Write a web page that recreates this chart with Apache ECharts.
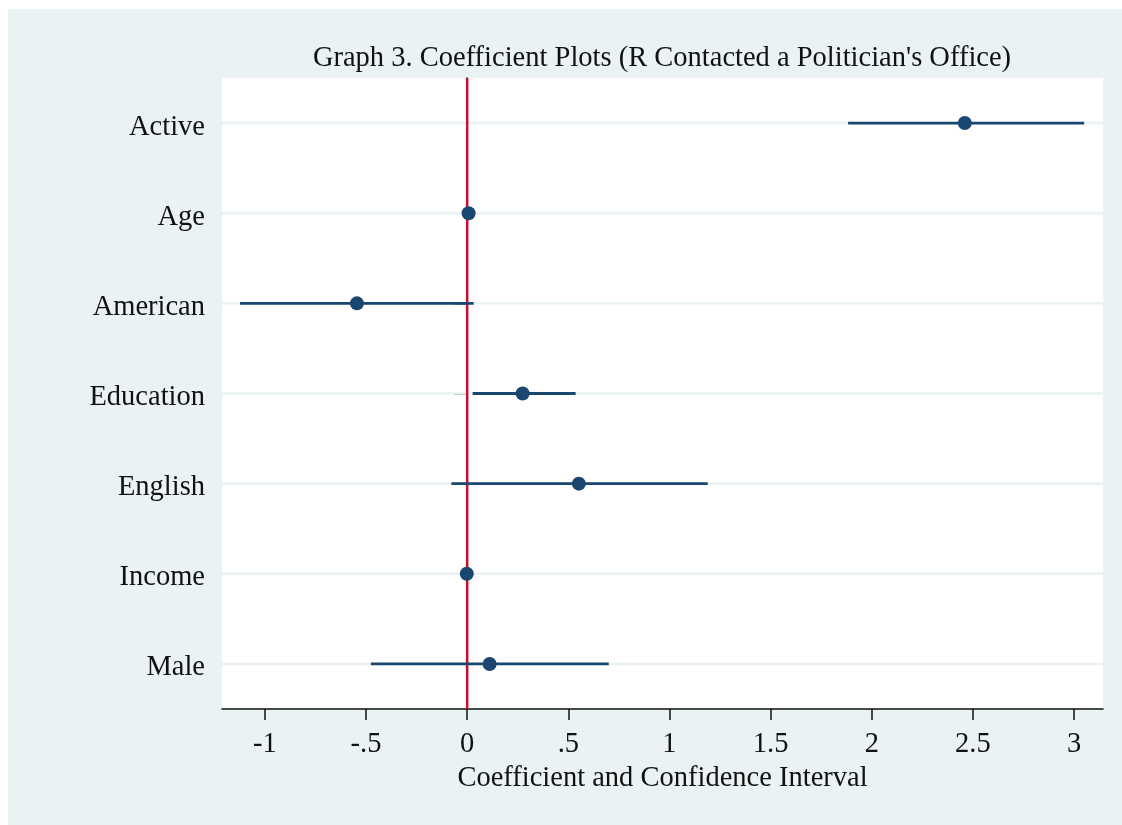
<!DOCTYPE html>
<html>
<head>
<meta charset="utf-8">
<script src="https://cdn.jsdelivr.net/npm/echarts@6/dist/echarts.min.js"></script>
<style>
  html, body { margin: 0; padding: 0; background: #ffffff; }
  #chart { position: absolute; left: 8px; top: 9px; width: 1114px; height: 816px; background: #EAF2F3; }
</style>
</head>
<body>
<div id="chart"></div>
<script>
// Regression coefficients with 95% confidence intervals
const categories = ['Active', 'Age', 'American', 'Education', 'English', 'Income', 'Male'];
const coef  = [2.46, 0.007, -0.545, 0.274, 0.552, -0.002, 0.111];
const lower = [1.883, 0.002, -1.123, 0.027, -0.078, -0.005, -0.476];
const upper = [3.05, 0.012, 0.032, 0.536, 1.189, 0.001, 0.70];
const xTicks = [-1, -0.5, 0, 0.5, 1, 1.5, 2, 2.5, 3];
const refValue = 0;

const NAVY = '#1A476F';
const RED = '#C8102E';
const INK = '#111111';
const FONT = '"Liberation Serif", "Times New Roman", serif';
const FS = 28.5;

function fmtTick(v) {
  let s = String(Math.round(v * 10) / 10);
  if (s.startsWith('0.')) s = s.slice(1);
  if (s.startsWith('-0.')) s = '-' + s.slice(2);
  return s;
}

const chart = echarts.init(document.getElementById('chart'));

const ciData = categories.map((c, i) => [lower[i], upper[i], i]);
const pointData = categories.map((c, i) => [coef[i], i]);

chart.setOption({
  animation: false,
  graphic: [{
    type: 'text',
    x: 654, y: 50,
    style: {
      text: "Graph 3. Coefficient Plots (R Contacted a Politician's Office)",
      font: FS + 'px ' + FONT,
      fill: INK,
      textAlign: 'center',
      textVerticalAlign: 'middle'
    }
  }],
  grid: {
    left: 214, right: 19, top: 69, bottom: 116,
    show: true, backgroundColor: '#ffffff', borderWidth: 0
  },
  xAxis: {
    type: 'value',
    min: -1.212, max: 3.143,
    interval: 0.5,
    splitLine: { show: false },
    axisLine: { show: true, onZero: false, lineStyle: { color: INK, width: 1.5 } },
    axisTick: {
      show: true, length: 11, lineStyle: { color: INK, width: 1.5 },
      customValues: xTicks
    },
    axisLabel: {
      customValues: xTicks,
      formatter: fmtTick,
      fontFamily: FONT, fontSize: FS, color: INK, margin: 21
    },
    name: 'Coefficient and Confidence Interval',
    nameLocation: 'middle',
    nameGap: 53,
    nameTextStyle: { fontFamily: FONT, fontSize: FS, color: INK, verticalAlign: 'top' }
  },
  yAxis: {
    type: 'category',
    data: categories,
    inverse: true,
    boundaryGap: true,
    axisLine: { show: true, lineStyle: { color: INK, width: 1.5 } },
    axisTick: { show: true, alignWithLabel: true, length: 13, lineStyle: { color: INK, width: 1.5 } },
    axisLabel: {
      margin: 17,
      formatter: function (v) { return '{c|' + v + '}'; },
      rich: {
        c: { fontFamily: FONT, fontSize: FS, color: INK, padding: [8, 0, 0, 0] }
      }
    },
    splitLine: { show: false }
  },
  series: [
    {
      // horizontal guide lines at each category
      type: 'custom',
      silent: true,
      z: 1,
      data: categories.map((c, i) => [i]),
      renderItem: function (params, api) {
        const cs = params.coordSys;
        const y = api.coord([0, api.value(0)])[1];
        return {
          type: 'line',
          shape: { x1: cs.x, y1: y, x2: cs.x + cs.width, y2: y },
          style: { stroke: '#EAF2F3', lineWidth: 2.5 }
        };
      }
    },
    {
      // vertical reference line at zero
      type: 'custom',
      silent: true,
      z: 3,
      data: [[refValue]],
      renderItem: function (params, api) {
        const cs = params.coordSys;
        const x = api.coord([api.value(0), 0])[0];
        return {
          type: 'line',
          shape: { x1: x, y1: cs.y, x2: x, y2: cs.y + cs.height },
          style: { stroke: RED, lineWidth: 2.5 }
        };
      }
    },
    {
      // confidence interval spans
      type: 'custom',
      silent: true,
      z: 4,
      data: ciData,
      renderItem: function (params, api) {
        const p1 = api.coord([api.value(0), api.value(2)]);
        const p2 = api.coord([api.value(1), api.value(2)]);
        return {
          type: 'line',
          shape: { x1: p1[0], y1: p1[1], x2: p2[0], y2: p2[1] },
          style: { stroke: NAVY, lineWidth: 2.8 }
        };
      }
    },
    {
      type: 'scatter',
      z: 5,
      data: pointData,
      symbol: 'circle',
      symbolSize: 14,
      itemStyle: { color: NAVY, opacity: 1 }
    }
  ]
});
</script>
</body>
</html>
